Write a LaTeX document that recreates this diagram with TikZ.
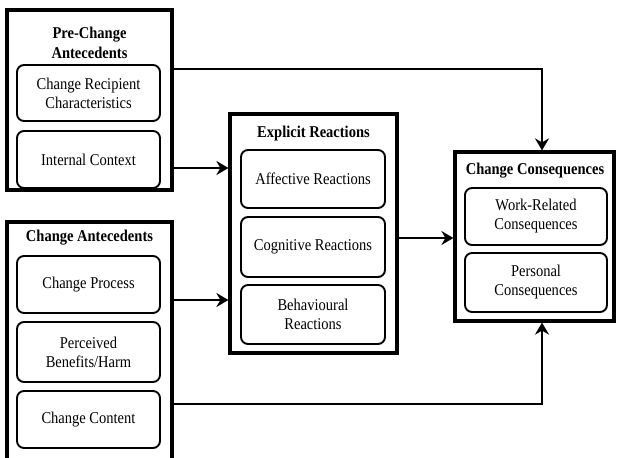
\documentclass[tikz,border=0pt]{standalone}
\usepackage{fontspec}
\setmainfont{Liberation Serif}[FakeStretch=0.88]
\usetikzlibrary{arrows.meta}
\begin{document}
\begin{tikzpicture}[x=1pt,y=-1pt,
  outer/.style={draw, line width=3.2pt, inner sep=0pt},
  inner/.style={draw, rounded corners=7pt, line width=1.9pt, align=center,
    minimum width=143pt, inner sep=0pt, font=\fontsize{16.5}{19}\selectfont},
  ttl/.style={font=\bfseries\fontsize{16.5}{20}\selectfont, align=center, inner sep=0pt},
  conn/.style={line width=2.8pt, -{Stealth[length=12pt,width=14pt,inset=4pt]}},
  link/.style={line width=2.8pt}
]
\useasboundingbox (0,0) rectangle (617,457);
\clip (0,0) rectangle (617,457);
% Pre-Change Antecedents
\node[outer, minimum width=165pt, minimum height=180pt] (pre) at (89.5,100) {};
\node[ttl] (pret) at (89.5,43) {Pre-Change\\Antecedents};
\node[inner, minimum height=56pt] (crc) at (88.5,93) {Change Recipient\\Characteristics};
\node[inner, minimum height=57pt] (ic) at (88.5,159.5) {Internal Context};
% Change Antecedents
\node[outer, minimum width=165pt, minimum height=250pt] (ant) at (89.5,347) {};
\node[ttl] (antt) at (89.5,238) {Change Antecedents};
\node[inner, minimum height=57pt] (cp) at (88.5,284.5) {Change Process};
\node[inner, minimum height=60pt] (pb) at (88.5,352) {Perceived\\Benefits/Harm};
\node[inner, minimum height=57pt] (cc) at (88.5,419.5) {Change Content};
% Explicit Reactions
\node[outer, minimum width=167pt, minimum height=239pt] (exp) at (313.5,233.5) {};
\node[ttl] (expt) at (313.5,134) {Explicit Reactions};
\node[inner, minimum width=144pt, minimum height=58pt] (aff) at (313,179) {Affective Reactions};
\node[inner, minimum width=144pt, minimum height=60pt] (cog) at (313,247) {Cognitive Reactions};
\node[inner, minimum width=144pt, minimum height=59pt] (beh) at (313,314.5) {Behavioural\\Reactions};
% Change Consequences
\node[outer, minimum width=159pt, minimum height=169pt] (con) at (534.5,236.5) {};
\node[ttl] (cont) at (535,171) {Change Consequences};
\node[inner, minimum width=142pt, minimum height=57pt] (wr) at (536,216.5) {Work-Related\\Consequences};
\node[inner, minimum width=142pt, minimum height=59pt] (pc) at (536,282.5) {Personal\\Consequences};
% connectors
\coordinate (c1) at ([yshift=31pt]pre.east);
\coordinate (c2) at ([xshift=7.5pt]con.north);
\draw[conn] (c1) -| (c2);
\coordinate (c3) at ([yshift=-68pt]pre.east);
\draw[conn] (c3) -- (c3 -| exp.west);
\coordinate (c4) at ([yshift=47pt]ant.east);
\draw[conn] (c4) -- (c4 -| exp.west);
\coordinate (c5) at ([yshift=-57pt]ant.east);
\coordinate (c6) at ([xshift=7.5pt]con.south);
\draw[conn] (c5) -| (c6);
\coordinate (c7) at ([yshift=-4.5pt]exp.east);
\draw[conn] (c7) -- (c7 -| con.west);
\end{tikzpicture}
\end{document}
